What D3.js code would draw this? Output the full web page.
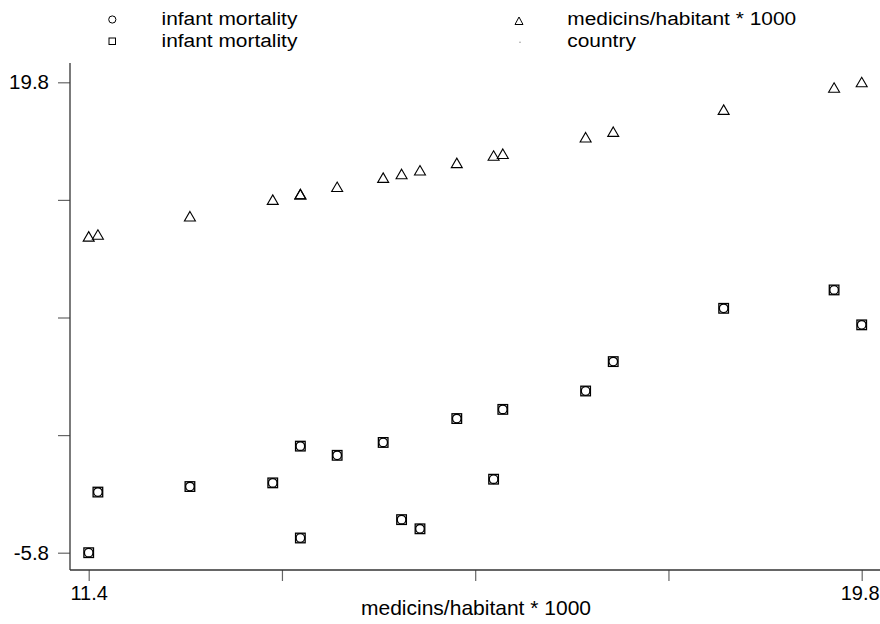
<!DOCTYPE html>
<html>
<head>
<meta charset="utf-8">
<script src="https://cdn.jsdelivr.net/npm/d3@7"></script>
<style>
  html, body { margin: 0; padding: 0; background: #fff; }
  svg { display: block; font-family: "Liberation Sans", Arial, sans-serif; }
</style>
</head>
<body>
<svg id="chart" width="880" height="624"></svg>
<script>
// ---- data ----
const countries = ["c1","c2","c3","c4","c5","c6","c7","c8","c9","c10","c11","c12","c13","c14","c15","c16","c17","c18"];
const medicins = [11.4, 11.5, 12.5, 13.4, 13.7, 13.7, 14.1, 14.6, 14.8, 15.0, 15.4, 15.8, 15.9, 16.8, 17.1, 18.3, 19.5, 19.8];
const infantMortality = [-5.8, -2.5, -2.2, -2.0, 0.0, -5.0, -0.5, 0.2, -4.0, -4.5, 1.5, -1.8, 2.0, 3.0, 4.6, 7.5, 8.5, 6.6];
const xTicks = [11.4, 13.5, 15.6, 17.7, 19.8];
const yTicks = [-5.8, 0.6, 7.0, 13.4, 19.8];
const xTickLabels = ["11.4", "", "", "", "19.8"];
const yTickLabels = ["-5.8", "", "", "", "19.8"];
const legendLabels = ["infant mortality", "infant mortality", "medicins/habitant * 1000", "country"];
const xTitle = "medicins/habitant * 1000";

const rows = countries.map((c, i) => ({ country: c, x: medicins[i], infant: infantMortality[i], med: medicins[i] }));

const svg = d3.select("#chart");
const x = d3.scaleLinear().domain([11.4, 19.8]).range([88.7, 861.7]);
const y = d3.scaleLinear().domain([-5.8, 19.8]).range([552.7, 82.3]);

// axes
const xAxis = d3.axisBottom(x).tickValues(xTicks).tickSize(11).tickPadding(5)
  .tickFormat((d, i) => xTickLabels[i]);
const gx = svg.append("g").attr("transform", "translate(0,570)").call(xAxis);
gx.select(".domain").remove();
gx.selectAll(".tick line").attr("stroke", "#666").attr("stroke-width", 1.2);
gx.selectAll(".tick text").attr("fill", "#000").style("font-size", "20px")
  .style("font-family", "'Liberation Sans', Arial, sans-serif")
  .attr("dx", (d, i) => i === xTicks.length - 1 ? -2 : 0);
svg.append("line").attr("x1", 70).attr("x2", 880).attr("y1", 570).attr("y2", 570)
  .attr("stroke", "#333").attr("stroke-width", 1.3);

const yAxis = d3.axisLeft(y).tickValues(yTicks).tickSize(12).tickPadding(9)
  .tickFormat((d, i) => yTickLabels[i]);
const gy = svg.append("g").attr("transform", "translate(70,0)").call(yAxis);
gy.select(".domain").remove();
gy.selectAll(".tick line").attr("stroke", "#666").attr("stroke-width", 1.2);
gy.selectAll(".tick text").attr("fill", "#000").style("font-size", "20.5px")
  .style("font-family", "'Liberation Sans', Arial, sans-serif");
svg.append("line").attr("x1", 70).attr("x2", 70).attr("y1", 63).attr("y2", 570)
  .attr("stroke", "#333").attr("stroke-width", 1.3);

// axis title
svg.append("text").attr("x", 476).attr("y", 615).attr("text-anchor", "middle")
  .style("font-size", "21px").attr("fill", "#000").text(xTitle);

// marks
const triPath = "M0,-5 L5.5,4.5 L-5.5,4.5 Z";
svg.append("g").selectAll("path.tri").data(rows).join("path")
  .attr("class", "tri")
  .attr("d", triPath)
  .attr("transform", d => `translate(${x(d.x)},${y(d.med)})`)
  .attr("fill", "none").attr("stroke", "#000").attr("stroke-width", 1.1);

svg.append("g").selectAll("rect").data(rows).join("rect")
  .attr("x", d => x(d.x) - 4.8).attr("y", d => y(d.infant) - 4.8)
  .attr("width", 9.6).attr("height", 9.6)
  .attr("fill", "none").attr("stroke", "#000").attr("stroke-width", 1.3);

svg.append("g").selectAll("circle").data(rows).join("circle")
  .attr("cx", d => x(d.x)).attr("cy", d => y(d.infant)).attr("r", 4.3)
  .attr("fill", "none").attr("stroke", "#000").attr("stroke-width", 1.3);

// legend
const leg = svg.append("g");
leg.append("circle").attr("cx", 112.3).attr("cy", 19.5).attr("r", 3.6)
  .attr("fill", "none").attr("stroke", "#000").attr("stroke-width", 1);
leg.append("rect").attr("x", 109).attr("y", 38).attr("width", 6.5).attr("height", 6.5)
  .attr("fill", "none").attr("stroke", "#000").attr("stroke-width", 1);
leg.append("path").attr("d", "M0,-4 L4,3.5 L-4,3.5 Z").attr("transform", "translate(519,21)")
  .attr("fill", "none").attr("stroke", "#000").attr("stroke-width", 1);
leg.append("circle").attr("cx", 520).attr("cy", 42.3).attr("r", 0.7).attr("fill", "#888");

const legPos = [[161.5, 24.5], [161.5, 46.5], [567.3, 24.5], [567.3, 46.5]];
legendLabels.forEach((t, i) => {
  leg.append("text")
    .attr("transform", `translate(${legPos[i][0]},${legPos[i][1]}) scale(1.1,1)`)
    .style("font-size", "19px").attr("fill", "#000").text(t);
});
</script>
</body>
</html>
